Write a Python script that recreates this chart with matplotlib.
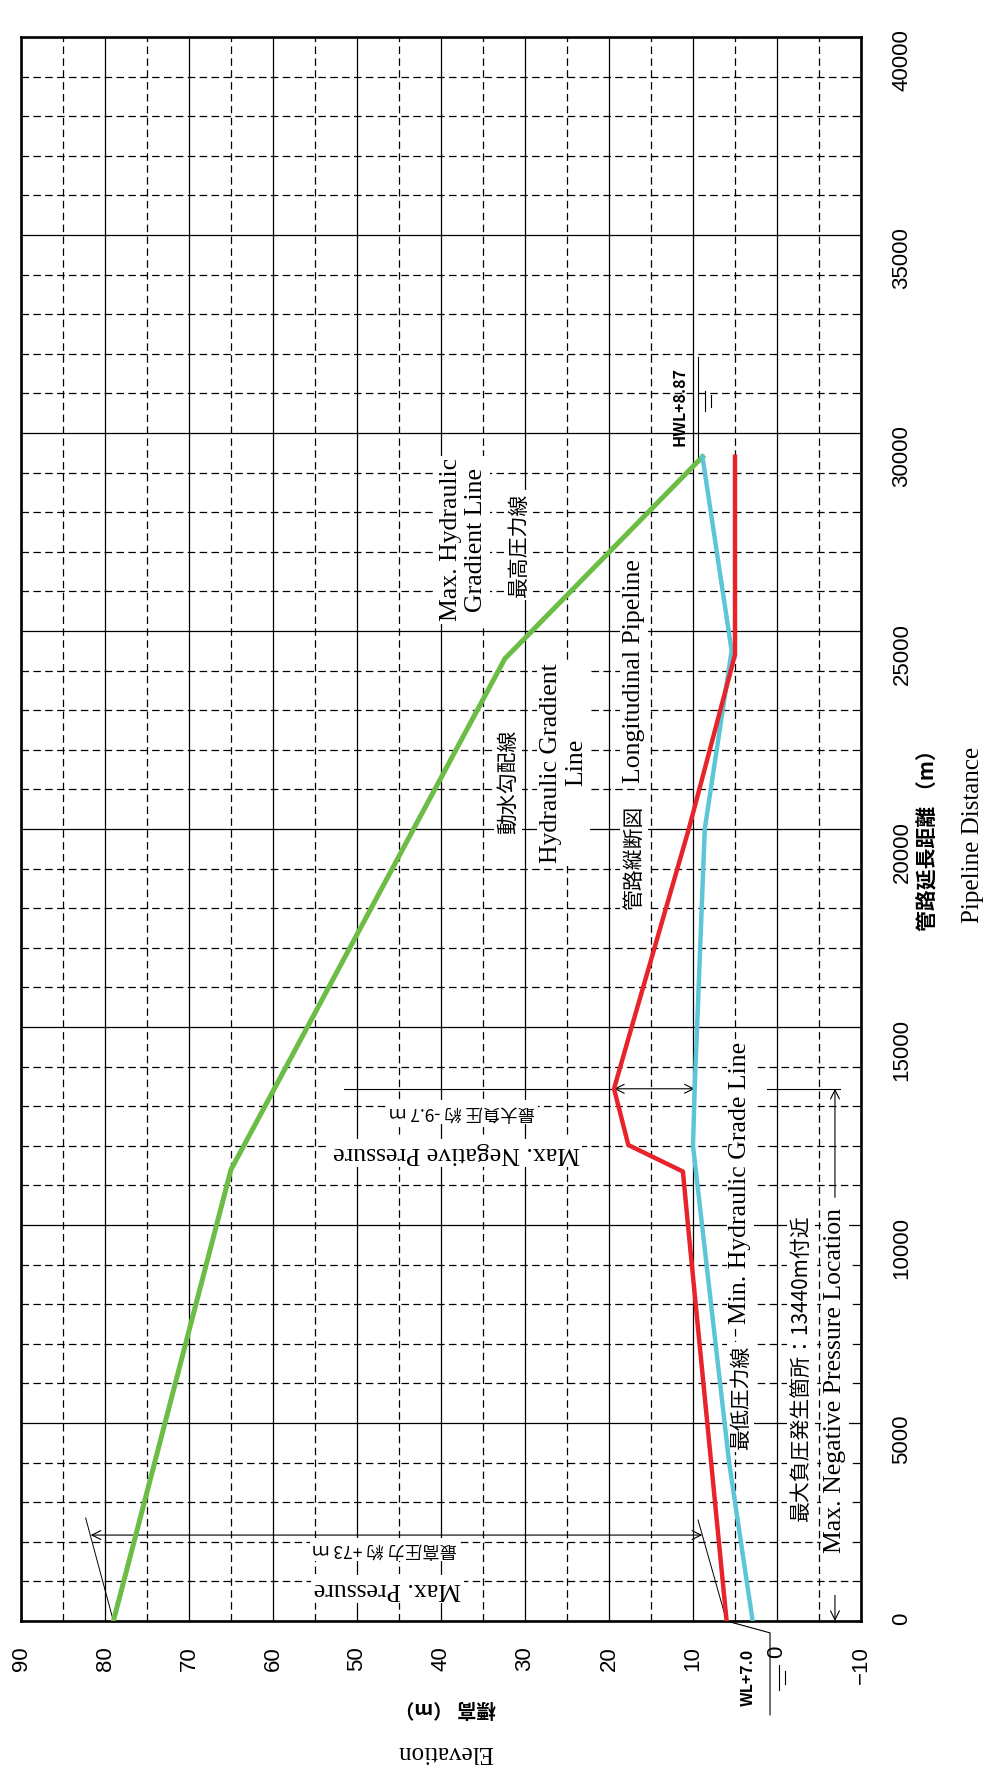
import matplotlib
matplotlib.use("Agg")
import matplotlib.pyplot as plt
from matplotlib.ticker import MultipleLocator

# pipeline profile, read along the pipeline distance (m) -> elevation (m)
max_hgl_dist = [0, 11400, 24300, 29400]
max_hgl_elev = [79.0, 65.0, 32.4, 8.87]

pipe_dist = [0, 10000, 11350, 12020, 13440, 15000, 20000, 24400, 29400]
pipe_elev = [6.0, 10.6, 11.2, 17.7, 19.4, 17.3, 10.5, 5.0, 5.0]

min_hgl_dist = [0, 4000, 12000, 13440, 20000, 24500, 29400]
min_hgl_elev = [2.9, 5.7, 10.0, 9.8, 8.6, 5.4, 8.87]

elev_ticks = [90, 80, 70, 60, 50, 40, 30, 20, 10, 0, -10]
dist_ticks = [0, 5000, 10000, 15000, 20000, 25000, 30000, 35000, 40000]

neg_loc = 13440      # max negative pressure location
max_p_dist = 2170    # where the max pressure dimension is drawn

SERIF = ["Liberation Serif", "DejaVu Serif"]
JP = ["Noto Sans CJK JP", "DejaVu Sans"]

fig = plt.figure(figsize=(9.91, 17.69), dpi=100)
# the sheet is drawn turned a quarter turn: elevation runs right->left, distance upward
ax = fig.add_axes([21 / 991, 1 - 1621 / 1769, 840 / 991, 1584 / 1769])
ax.set_xlim(90, -10)
ax.set_ylim(0, 40000)

ax.xaxis.set_major_locator(MultipleLocator(10))
ax.xaxis.set_minor_locator(MultipleLocator(5))
ax.yaxis.set_major_locator(MultipleLocator(5000))
ax.yaxis.set_minor_locator(MultipleLocator(1000))
ax.set_xticks(elev_ticks)
ax.set_xticklabels([str(t).replace("-", "\u2212") for t in elev_ticks])
ax.set_yticks(dist_ticks)
ax.yaxis.tick_right()

ax.set_axisbelow(True)
ax.grid(which="major", color="black", lw=0.9, ls="-")
ax.grid(which="minor", color="black", lw=0.9, ls=(0, (6, 3.5)))
ax.tick_params(which="both", length=0)
ax.tick_params(axis="x", labelrotation=90, pad=18, labelsize=16)
ax.tick_params(axis="y", labelrotation=90, pad=22, labelsize=16)
for lab in ax.get_xticklabels() + ax.get_yticklabels():
    lab.set_fontfamily("Liberation Sans")
for sp in ax.spines.values():
    sp.set_linewidth(1.9)

ax.plot(max_hgl_elev, max_hgl_dist, color="#6cbd45", lw=3.6, zorder=4)
ax.plot(min_hgl_elev, min_hgl_dist, color="#5cc6d6", lw=3.2, zorder=4)
ax.plot(pipe_elev, pipe_dist, color="#e8242b", lw=3.2, zorder=5)

white = dict(facecolor="white", edgecolor="none", pad=2)

def note(x, y, s, rot, fam, size, **kw):
    ax.text(x, y, s, rotation=rot, family=fam, fontsize=size, ha="center",
            va="center", bbox=white, zorder=3, **kw)

# max pressure dimension
ax.plot([max_hgl_elev[0], 82.3], [0, 2600], color="black", lw=0.7, zorder=3)
ax.plot([pipe_elev[0], 9.4], [0, 2550], color="black", lw=0.7, zorder=3)
ax.annotate("", xy=(81.7, max_p_dist), xytext=(8.9, max_p_dist),
            arrowprops=dict(arrowstyle="<->", lw=0.8, color="black",
                            shrinkA=0, shrinkB=0, mutation_scale=16), zorder=3)
note(46.4, 808, "Max. Pressure", 180, SERIF, 18.5)
note(46.7, 1800, "最高圧力 約 +73 ｍ", 180, JP, 12.5)

# max negative pressure dimension
ax.plot([51.5, 19.4], [neg_loc, neg_loc], color="black", lw=0.8, zorder=3)
ax.annotate("", xy=(19.4, neg_loc), xytext=(9.8, neg_loc),
            arrowprops=dict(arrowstyle="<->", lw=0.8, color="black",
                            shrinkA=0, shrinkB=0, mutation_scale=16), zorder=3)
note(38.2, 11820, "Max. Negative Pressure", 180, SERIF, 18.5)
note(37.5, 12850, "最大負圧 約 -9.7 ｍ", 180, JP, 12.5)

# location of the max negative pressure
ax.plot([1.2, -7.5], [neg_loc, neg_loc], color="black", lw=0.8, zorder=3)
ax.annotate("", xy=(-6.9, 0), xytext=(-6.9, 650),
            arrowprops=dict(arrowstyle="->", lw=0.8, color="black",
                            shrinkA=0, shrinkB=0, mutation_scale=16), zorder=3)
ax.annotate("", xy=(-6.9, neg_loc), xytext=(-6.9, 10700),
            arrowprops=dict(arrowstyle="->", lw=0.8, color="black",
                            shrinkA=0, shrinkB=0, mutation_scale=16), zorder=3)
note(-6.9, 6085, "Max. Negative Pressure Location", 90, SERIF, 18.5)
note(-2.85, 6390, "最大負圧発生箇所：13440m付近", 90, JP, 15)

# line names
note(4.35, 5657, "最低圧力線", 90, JP, 15)
note(4.35, 11060, "Min. Hydraulic Grade Line", 90, SERIF, 18.5)
note(17.0, 19270, "管路縦断図", 90, JP, 15)
note(17.0, 23990, "Longitudinal Pipeline", 90, SERIF, 18.5)
note(32.0, 21200, "動水勾配線", 90, JP, 15)
note(25.4, 21670, "Hydraulic Gradient\nLine", 90, SERIF, 18.5, multialignment="center")
note(37.35, 27300, "Max. Hydraulic\nGradient Line", 90, SERIF, 18.5, multialignment="center")
note(30.7, 27170, "最高圧力線", 90, JP, 15)

# water levels at both ends
ax.plot([9.4, 9.4], [29370, 31920], color="black", lw=0.8, zorder=3)
ax.plot([8.6, 8.6], [30550, 31060], color="black", lw=0.8, zorder=3)
ax.plot([7.8, 7.8], [30650, 30950], color="black", lw=0.8, zorder=3)
ax.text(11.55, 30660, "HWL+8.87", rotation=90, family=JP, fontsize=11.5,
        weight="bold", ha="center", va="center", zorder=3)

ax.plot([pipe_elev[0], 0.83, 0.83], [0, -300, -2370], color="black", lw=0.8,
        clip_on=False, zorder=3)
ax.plot([-0.2, -0.2], [-1100, -1750], color="black", lw=0.8, clip_on=False)
ax.plot([-0.9, -0.9], [-1250, -1600], color="black", lw=0.8, clip_on=False)
ax.text(3.45, -1414, "WL+7.0", rotation=90, family=JP, fontsize=11.5,
        weight="bold", ha="center", va="center")

# axis titles
fig.text(445 / 991, 1 - 1708 / 1769, "標高 （m）", rotation=180, family=JP,
         fontsize=14, weight="bold", ha="center", va="center")
fig.text(445 / 991, 1 - 1752 / 1769, "Elevation", rotation=180, family=SERIF,
         fontsize=18, ha="center", va="center")
fig.text(928 / 991, 1 - 835 / 1769, "管路延長距離 （m）", rotation=90, family=JP,
         fontsize=15, weight="bold", ha="center", va="center")
fig.text(973 / 991, 1 - 835 / 1769, "Pipeline Distance", rotation=90, family=SERIF,
         fontsize=18, ha="center", va="center")

fig.savefig("out.png", dpi=100, facecolor="white")
